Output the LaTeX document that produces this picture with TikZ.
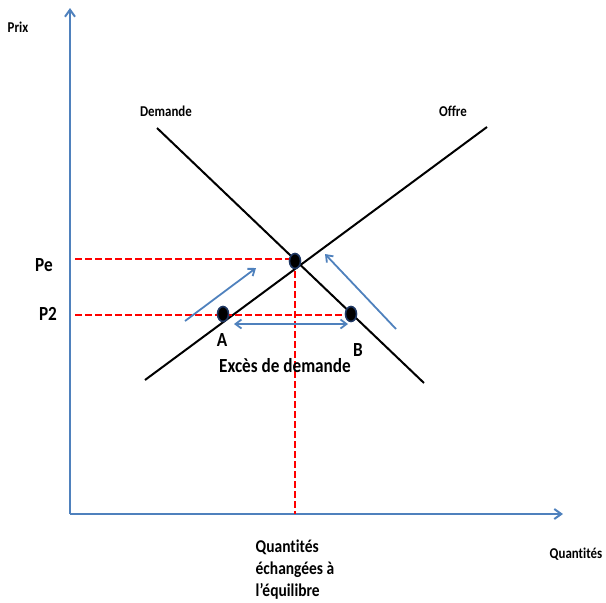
\documentclass[tikz,border=0pt]{standalone}
\usepackage{fontspec}
\setmainfont{Carlito}[Ligatures=NoCommon]
\usetikzlibrary{arrows.meta,shapes.geometric}
\definecolor{axblue}{RGB}{79,129,189}
\definecolor{dotedge}{RGB}{31,56,100}
\begin{document}
\begin{tikzpicture}[x=1pt,y=-1pt,
  axis/.style={axblue,line width=2pt,-{Straight Barb[length=7pt,width=10pt,line width=2pt]}},
  curve/.style={black,line width=2pt},
  redline/.style={red,line width=2.7pt,dash pattern=on 7pt off 3pt},
  movearrow/.style={axblue,line width=1.8pt,-{Straight Barb[length=6pt,width=9pt,line width=1.8pt]}},
  dblarrow/.style={axblue,line width=1.8pt,{Straight Barb[length=6pt,width=9pt,line width=1.8pt]}-{Straight Barb[length=6pt,width=9pt,line width=1.8pt]}},
  pt/.style={ellipse,draw=dotedge,fill=black,line width=1.6pt,minimum width=11pt,minimum height=15pt,inner sep=0pt},
  lab/.style={inner sep=0pt,xscale=0.86,transform shape},
  small/.style={lab,font=\bfseries\fontsize{15}{17}\selectfont},
  big/.style={lab,font=\bfseries\fontsize{20}{22}\selectfont},
]
\useasboundingbox (0,0) rectangle (606,603);
% axes
\coordinate (O) at (70,514);
\coordinate (ytip) at (70,8);
\coordinate (xtip) at (563,514);
\draw[axis] (O) -- (ytip);
\draw[axis] (O) -- (xtip);
% curves
\coordinate (s1) at (145,380);
\coordinate (s2) at (487,127);
\coordinate (d1) at (157,128);
\coordinate (d2) at (424,383);
\draw[curve] (s1) -- (s2);
\draw[curve] (d1) -- (d2);
% key points
\coordinate (E) at (295,261);
\coordinate (Apt) at (223,314);
\coordinate (Bpt) at (351,314);
\coordinate (pe0) at (75,259);
\coordinate (p20) at (75,315);
\coordinate (qe0) at (295,514);
% dashed lines
\draw[redline] (pe0) -- (E |- pe0);
\draw[redline] (p20) -- (Bpt |- p20);
\draw[redline] (E) -- (qe0);
% blue arrows
\coordinate (la1) at (185,321);
\coordinate (la2) at (256,268);
\coordinate (ra1) at (396,329);
\coordinate (ra2) at (325,254);
\coordinate (da1) at (234,324);
\coordinate (da2) at (348,324);
\draw[movearrow] (la1) -- (la2);
\draw[movearrow] (ra1) -- (ra2);
\draw[dblarrow] (da1) -- (da2);
% dots
\node[pt] (nE) at (E) {};
\node[pt] (nA) at (Apt) {};
\node[pt] (nB) at (Bpt) {};
% labels
\node[small] (prix) at (18,27) {Prix};
\node[small] (dem) at (166,111) {Demande};
\node[small] (off) at (453,111) {Offre};
\node[big] (pe) at (44,265) {Pe};
\node[big] (p2) at (48,314) {P2};
\node[big] (la) at (222,340) {A};
\node[big] (lb) at (358,350) {B};
\node[big] (exc) at (285,366) {Excès de demande};
\node[small] (qx) at (576,554) {Quantités};
\node[lab,font=\bfseries\fontsize{18}{22}\selectfont,align=left] (qe) at (295,570) {Quantités\\échangées à\\l’équilibre};
\end{tikzpicture}
\end{document}
